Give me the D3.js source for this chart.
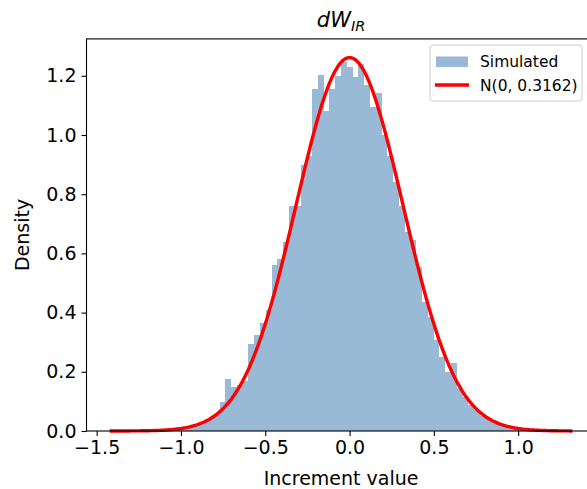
<!DOCTYPE html>
<html>
<head>
<meta charset="utf-8">
<script src="https://cdn.jsdelivr.net/npm/d3@7"></script>
<style>
  html, body { margin: 0; padding: 0; background: #fff; }
  svg { display: block; font-family: "DejaVu Sans", sans-serif; }
</style>
</head>
<body>
<div id="chart"></div>
<script>
// Simulated increments: 80 equal-width bins between the sample min and max
const sampleMin = -1.423;
const sampleMax = 1.322;
const binCount = 80;
const densities = [
  0.003, 0, 0, 0, 0, 0.003, 0, 0.003, 0.003, 0.003,
  0.006, 0.006, 0.009, 0.012, 0.017, 0.023, 0.032, 0.044, 0.054, 0.099,
  0.176, 0.150, 0.155, 0.170, 0.294, 0.324, 0.364, 0.410, 0.561, 0.580,
  0.640, 0.760, 0.760, 0.899, 0.930, 1.154, 1.203, 1.082, 1.155, 1.200,
  1.248, 1.231, 1.197, 1.240, 1.170, 1.096, 1.141, 1.000, 0.930, 0.842,
  0.760, 0.673, 0.645, 0.555, 0.437, 0.386, 0.307, 0.251, 0.200, 0.229,
  0.145, 0.115, 0.088, 0.070, 0.052, 0.040, 0.029, 0.020, 0.015, 0.012,
  0.009, 0.006, 0.003, 0.003, 0.003, 0, 0.003, 0, 0, 0.003
];

// Reference normal distribution N(mu, sigma)
const mu = 0;
const sigma = 0.3162;

const xTicks = [-1.5, -1.0, -0.5, 0.0, 0.5, 1.0];
const yTicks = [0.0, 0.2, 0.4, 0.6, 0.8, 1.0, 1.2];
const legendLabels = ["Simulated", "N(0, 0.3162)"];
const xLabel = "Increment value";
const yLabel = "Density";

const W = 587, H = 489;
const plot = { left: 86.5, right: 595.6, top: 38.9, bottom: 431 };

const binWidth = (sampleMax - sampleMin) / binCount;
const bins = densities.map((d, i) => ({
  x0: sampleMin + i * binWidth,
  x1: sampleMin + (i + 1) * binWidth,
  density: d
}));

const pdf = x => Math.exp(-0.5 * ((x - mu) / sigma) ** 2) / (sigma * Math.sqrt(2 * Math.PI));
const curve = d3.range(400).map(i => {
  const x = sampleMin + (sampleMax - sampleMin) * i / 399;
  return { x, y: pdf(x) };
});

const span = sampleMax - sampleMin;
const x = d3.scaleLinear()
  .domain([sampleMin - 0.05 * span, sampleMax + 0.05 * span])
  .range([plot.left, plot.right]);
const yMax = d3.max([d3.max(densities), d3.max(curve, d => d.y)]) * 1.05;
const y = d3.scaleLinear().domain([0, yMax]).range([plot.bottom, plot.top]);

const svg = d3.select("#chart").append("svg")
  .attr("width", W).attr("height", H);

// Histogram bars
svg.append("g")
  .selectAll("rect")
  .data(bins)
  .join("rect")
  .attr("x", d => x(d.x0))
  .attr("width", d => x(d.x1) - x(d.x0))
  .attr("y", d => y(d.density))
  .attr("height", d => y(0) - y(d.density))
  .attr("fill", "steelblue")
  .attr("fill-opacity", 0.55)
  .attr("shape-rendering", "crispEdges");

// Normal density curve
svg.append("path")
  .datum(curve)
  .attr("fill", "none")
  .attr("stroke", "red")
  .attr("stroke-width", 3.4)
  .attr("stroke-linejoin", "round")
  .attr("d", d3.line().x(d => x(d.x)).y(d => y(d.y)));

// Frame
svg.append("rect")
  .attr("x", plot.left).attr("y", plot.top)
  .attr("width", plot.right - plot.left)
  .attr("height", plot.bottom - plot.top)
  .attr("fill", "none").attr("stroke", "#000").attr("stroke-width", 1.1);

const fmt = d3.format(".1f");
const xAxis = svg.append("g")
  .attr("transform", `translate(0,${plot.bottom})`)
  .call(d3.axisBottom(x).tickValues(xTicks).tickFormat(fmt).tickSize(5).tickPadding(5));
const yAxis = svg.append("g")
  .attr("transform", `translate(${plot.left},0)`)
  .call(d3.axisLeft(y).tickValues(yTicks).tickFormat(fmt).tickSize(5).tickPadding(5));
[xAxis, yAxis].forEach(g => {
  g.select(".domain").remove();
  g.selectAll("line").attr("stroke", "#000").attr("stroke-width", 1.1);
  g.selectAll("text").attr("fill", "#000").style("font-size", "19px")
    .style("font-family", "'DejaVu Sans', sans-serif");
});

// Axis titles
svg.append("text")
  .attr("x", (plot.left + plot.right) / 2).attr("y", 485)
  .attr("text-anchor", "middle").style("font-size", "19px")
  .text(xLabel);
svg.append("text")
  .attr("transform", `translate(29,${(plot.top + plot.bottom) / 2}) rotate(-90)`)
  .attr("text-anchor", "middle").style("font-size", "19px")
  .text(yLabel);

// Title: dW with subscript IR
const title = svg.append("text")
  .attr("x", (plot.left + plot.right) / 2).attr("y", 27)
  .attr("text-anchor", "middle").style("font-size", "21px")
  .style("font-style", "italic");
title.append("tspan").text("dW");
title.append("tspan").attr("dy", 4).style("font-size", "14.5px").text("IR");

// Legend
const lg = svg.append("g");
lg.append("rect")
  .attr("x", 430).attr("y", 45).attr("width", 152).attr("height", 56)
  .attr("rx", 3).attr("fill", "#fff").attr("fill-opacity", 0.8)
  .attr("stroke", "#cccccc").attr("stroke-width", 1);
lg.append("rect")
  .attr("x", 436).attr("y", 56.5).attr("width", 32).attr("height", 10.5)
  .attr("fill", "steelblue").attr("fill-opacity", 0.55);
lg.append("line")
  .attr("x1", 435).attr("x2", 469).attr("y1", 85).attr("y2", 85)
  .attr("stroke", "red").attr("stroke-width", 3.4);
lg.selectAll("text.lbl")
  .data(legendLabels)
  .join("text")
  .attr("class", "lbl")
  .attr("x", 480).attr("y", (d, i) => 67 + i * 23.5)
  .style("font-size", "15.5px")
  .text(d => d);
</script>
</body>
</html>
